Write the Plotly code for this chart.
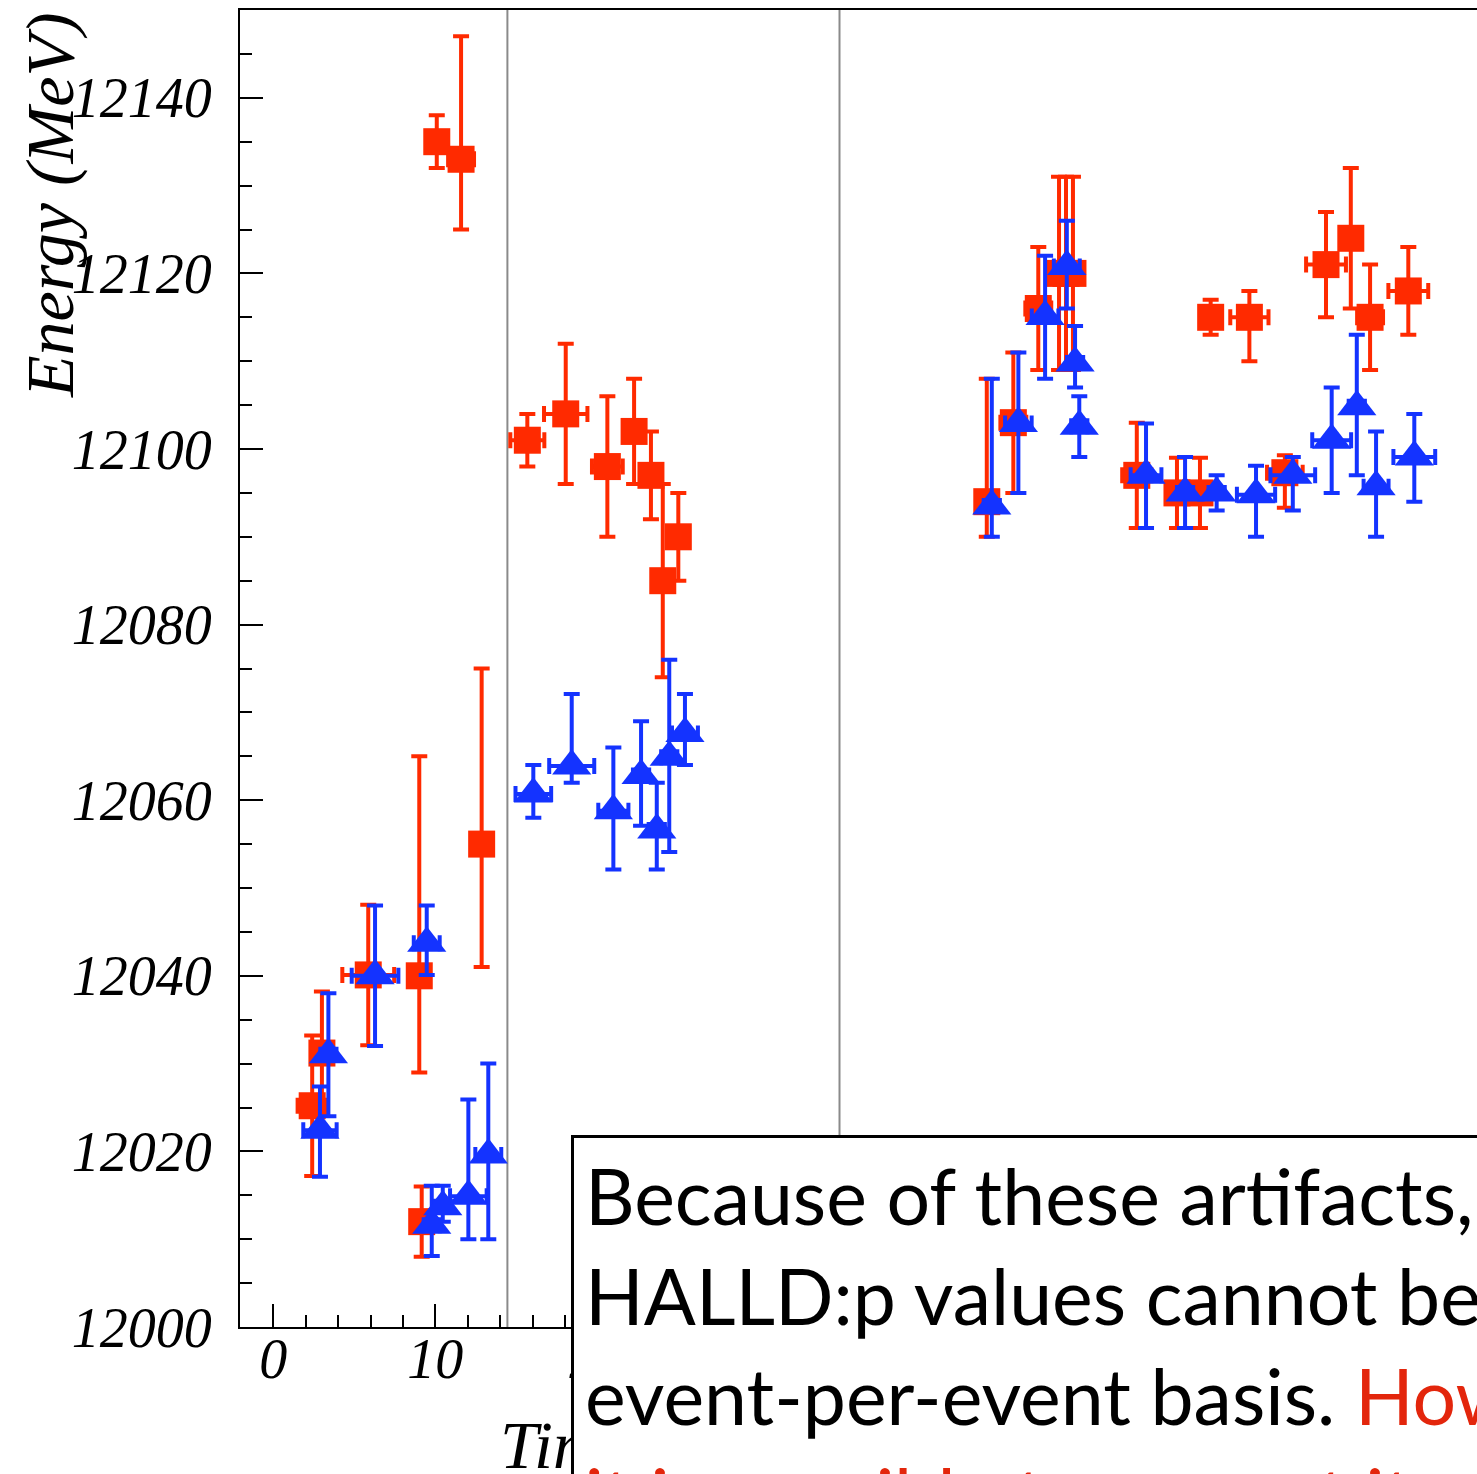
import plotly.graph_objects as go

# ---------------- data ----------------
red_x = [2.4, 3.0, 5.86, 9.01, 10.09, 11.59, 12.86, 9.16,
         15.68, 18.05, 20.62, 22.27, 23.31, 25.0, 24.04,
         44.04, 45.68, 47.22, 48.5, 48.93, 49.36, 53.3, 55.78, 57.2,
         57.86, 60.25, 62.44, 64.98, 66.51, 67.7, 70.06]
red_y = [12025.2, 12031.2, 12040.1, 12040.0, 12135.0, 12133.0, 12055.0, 12012.0,
         12101.0, 12104.0, 12098.0, 12102.0, 12097.0, 12090.0, 12085.0,
         12094.0, 12103.0, 12116.0, 12120.0, 12120.0, 12120.0, 12097.0, 12095.0, 12095.0,
         12115.0, 12115.0, 12097.3, 12121.0, 12124.0, 12115.0, 12118.0]
red_err_up = [8, 7, 8, 25, 3, 14, 20, 4,
              3, 8, 8, 6, 5, 5, 11,
              14, 8, 7, 11, 11, 11, 6, 4, 4,
              2, 3, 2, 6, 8, 6, 5]
red_err_down = [8, 7, 8, 11, 3, 8, 14, 4,
                3, 8, 8, 6, 5, 5, 11,
                4, 8, 7, 11, 11, 11, 6, 4, 4,
                2, 5, 4, 6, 8, 6, 5]
red_xerr = [0.9, 0.5, 1.6, 0.5, 0.5, 0.8, 0.5, 0.5,
            1.05, 1.34, 0.95, 0.5, 0.5, 0.5, 0.5,
            0.5, 0.8, 0.8, 0.5, 0.5, 0.5, 0.9, 0.5, 0.5,
            0.5, 1.18, 1.1, 1.23, 0.5, 0.8, 1.23]

blue_x = [2.88, 3.4, 6.28, 9.47, 9.78, 10.46, 12.04, 13.27,
          16.05, 18.42, 20.99, 22.7, 23.67, 24.44, 25.41,
          44.35, 45.99, 47.64, 48.98, 49.49, 49.75, 53.87, 56.28, 58.23,
          60.66, 62.93, 65.33, 66.88, 68.07, 70.43]
blue_y = [12022.4, 12031.0, 12040.0, 12043.7, 12011.6, 12013.7, 12014.9, 12019.6,
          12060.7, 12063.9, 12058.8, 12062.8, 12056.6, 12064.9, 12067.6,
          12093.5, 12102.9, 12115.1, 12120.8, 12109.8, 12102.6, 12097.0, 12095.0, 12095.0,
          12094.8, 12097.0, 12101.0, 12104.8, 12095.7, 12099.1]
blue_err_up = [5, 7, 8, 4.3, 4.5, 2.4, 11, 10.4,
               3.3, 8.2, 7.2, 6.2, 5.4, 11.1, 4.5,
               14.5, 8.1, 6.9, 5.2, 4.2, 3.4, 5.9, 4.1, 2,
               3.3, 2.1, 6, 8.2, 6.3, 4.9]
blue_err_down = [5.3, 7, 8, 3.6, 3.5, 1.7, 4.9, 9.6,
                 2.7, 1.9, 6.7, 5.7, 4.5, 10.8, 3.6,
                 3.5, 7.9, 7.1, 4.8, 2.8, 3.5, 6, 4, 2,
                 4.8, 4, 6, 7.8, 5.7, 5.1]
blue_xerr = [1.03, 0.5, 1.44, 0.8, 0.5, 0.5, 1.13, 0.8,
             1.1, 1.39, 0.93, 0.5, 0.5, 0.5, 0.8,
             0.5, 0.82, 0.82, 0.8, 0.5, 0.5, 0.95, 0.5, 0.5,
             1.18, 1.38, 1.2, 0.5, 0.77, 1.29]

boundaries = [14.45, 34.95]

y_title = "Energy (MeV)"
x_title = "Time (hours)"
note_lines = [
    ("Because of these artifacts, the", None),
    ("HALLD:p values cannot be used on an", None),
    ("event-per-event basis. ", "However,"),
    (None, "it is possible to correct it"),
]

RED = "#ff2a00"
BLUE = "#1433ff"
TXT_RED = "#e3260c"
SERIF = "Liberation Serif, Times New Roman, Times, serif"

fig = go.Figure()
fig.add_trace(go.Scatter(
    x=red_x, y=red_y, mode="markers",
    marker=dict(symbol="square", size=27, color=RED, line=dict(width=0)),
    error_y=dict(type="data", symmetric=False, array=red_err_up, arrayminus=red_err_down,
                 color=RED, thickness=4, width=8),
    error_x=dict(type="data", array=red_xerr, color=RED, thickness=4, width=8),
))
fig.add_trace(go.Scatter(
    x=blue_x, y=blue_y, mode="markers",
    marker=dict(symbol="triangle-up", size=34, color=BLUE, line=dict(width=0)),
    error_y=dict(type="data", symmetric=False, array=blue_err_up, arrayminus=blue_err_down,
                 color=BLUE, thickness=4, width=8),
    error_x=dict(type="data", array=blue_xerr, color=BLUE, thickness=4, width=8),
))

for b in boundaries:
    fig.add_shape(type="line", xref="x", yref="paper", x0=b, x1=b, y0=0, y1=1,
                  line=dict(color="#8a8a8a", width=2), layer="below")

tickfont = dict(family=SERIF, size=56, style="italic", color="black")

fig.update_layout(
    width=1477, height=1474,
    margin=dict(l=240, r=0, t=10, b=147, pad=0),
    paper_bgcolor="white", plot_bgcolor="white",
    showlegend=False,
    xaxis=dict(range=[-2.056, 74.3], tick0=0, dtick=10, ticks="inside", ticklen=23,
               tickwidth=2, tickcolor="black", showline=True, linecolor="black",
               linewidth=2, mirror=True, showgrid=False, zeroline=False,
               tickformat="d", tickfont=tickfont, ticklabelstandoff=-18,
               minor=dict(ticks="inside", ticklen=12, tickwidth=2, tickcolor="black",
                          dtick=2, tick0=0, showgrid=False)),
    yaxis=dict(range=[12000, 12150], tick0=12000, dtick=20, ticks="inside", ticklen=23,
               tickwidth=2, tickcolor="black", showline=True, linecolor="black",
               linewidth=2, mirror=False, showgrid=False, zeroline=False,
               tickformat="d", tickfont=tickfont, ticklabelstandoff=15,
               minor=dict(ticks="inside", ticklen=12, tickwidth=2, tickcolor="black",
                          dtick=5, tick0=12000, showgrid=False)),
)

# axis titles (ROOT style: aligned to the axis end)
fig.add_annotation(text=y_title, xref="paper", yref="paper", x=-0.1536, y=0.852,
                   xanchor="center", yanchor="middle", textangle=-90, showarrow=False,
                   font=dict(family=SERIF, size=68, style="italic", color="black"))
fig.add_annotation(text=x_title, xref="paper", yref="paper", x=(498 - 240) / 1237,
                   y=(1326.7 - 1445) / 1316.7, xanchor="left", yanchor="middle",
                   showarrow=False,
                   font=dict(family=SERIF, size=68, style="italic", color="black"))

# overlaid text box
parts = []
for black, red in note_lines:
    s = ""
    if black:
        s += black
    if red:
        s += f"<span style='color:{TXT_RED}'>{red}</span>"
    parts.append(s)
fig.add_annotation(text="<br>".join(parts), xref="paper", yref="paper",
                   x=(571 - 240) / 1237, y=(1326.7 - 1135) / 1316.7,
                   xanchor="left", yanchor="top", align="left", showarrow=False,
                   bgcolor="white", bordercolor="black", borderwidth=3, borderpad=11,
                   font=dict(family="Lato", size=77, color="black"))

fig.write_html("out.html")
